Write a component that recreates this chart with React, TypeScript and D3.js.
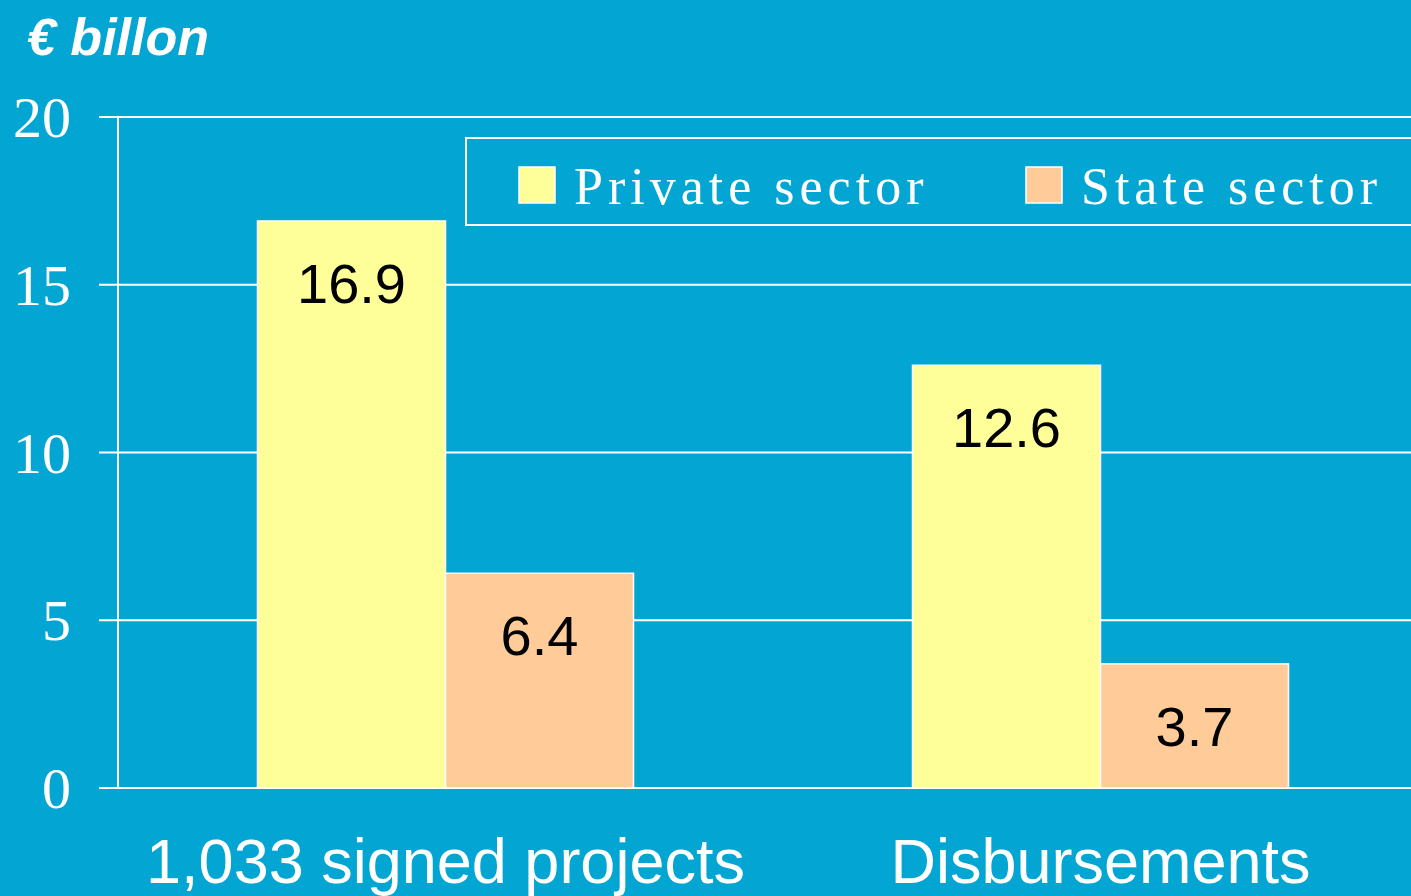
import React from "react";
import * as d3 from "d3";

const categories = ["1,033 signed projects", "Disbursements"];
const seriesNames = ["Private sector", "State sector"];
const privateValues = [16.9, 12.6];
const stateValues = [6.4, 3.7];
const yTicks = [0, 5, 10, 15, 20];
const unitLabel = "€ billon";

const W = 1411;
const H = 896;
const BG = "#03A6D3";
const COLORS = ["#FFFF99", "#FFCC99"];

export default function App() {
  const x = d3.scaleBand<string>().domain(categories).range([118, 1428]).paddingInner(0).paddingOuter(0);
  const y = d3.scaleLinear().domain([0, 20]).range([788, 117]);
  const sub = d3.scaleBand<string>().domain(seriesNames).range([0, 376]);
  const series = [privateValues, stateValues];

  return (
    <svg width={W} height={H} style={{ position: "absolute", left: 0, top: 0, display: "block" }}>
      <rect x={0} y={0} width={W} height={H} fill={BG} />
      <text x={27} y={55} fill="#fff" fontFamily="Liberation Sans, Arial, sans-serif" fontWeight="bold" fontStyle="italic" fontSize={52}>
        {unitLabel}
      </text>
      {yTicks.map((t) => (
        <g key={t}>
          <line x1={99} x2={W} y1={y(t)} y2={y(t)} stroke="#fff" strokeWidth={2} />
          <text x={71} y={y(t) + 20} textAnchor="end" fill="#fff" fontFamily="Liberation Serif, Times New Roman, serif" fontSize={58}>
            {t}
          </text>
        </g>
      ))}
      <line x1={118} x2={118} y1={y(20)} y2={y(0)} stroke="#fff" strokeWidth={2} />
      {categories.map((c, ci) => {
        const cx = (x(c) as number) + x.bandwidth() / 2;
        const gx = cx - sub.range()[1] / 2;
        return (
          <g key={c}>
            {seriesNames.map((s, si) => {
              const v = series[si][ci];
              const bx = gx + (sub(s) as number);
              const top = y(v);
              const mid = (top + y(0)) / 2;
              const ly = Math.min(top + 62, mid);
              return (
                <g key={s}>
                  <rect x={bx} y={top} width={sub.bandwidth()} height={y(0) - top} fill={COLORS[si]} stroke="#fff" strokeWidth={1.5} />
                  <text x={bx + sub.bandwidth() / 2} y={ly + 20} textAnchor="middle" fill="#000" fontFamily="Liberation Sans, Arial, sans-serif" fontSize={56}>
                    {v.toFixed(1)}
                  </text>
                </g>
              );
            })}
            <text x={cx} y={883} textAnchor="middle" fill="#fff" fontFamily="Liberation Sans, Arial, sans-serif" fontSize={63}>
              {c}
            </text>
          </g>
        );
      })}
      <rect x={466} y={138} width={W} height={87} fill="none" stroke="#fff" strokeWidth={2} />
      {seriesNames.map((s, i) => {
        const lx = i === 0 ? 519 : 1026;
        return (
          <g key={s}>
            <rect x={lx} y={167} width={36} height={36} fill={COLORS[i]} stroke="#fff" strokeWidth={1.5} />
            <text x={lx + 55} y={204} fill="#fff" fontFamily="Liberation Serif, Times New Roman, serif" fontSize={52} letterSpacing={5}>
              {s}
            </text>
          </g>
        );
      })}
    </svg>
  );
}
